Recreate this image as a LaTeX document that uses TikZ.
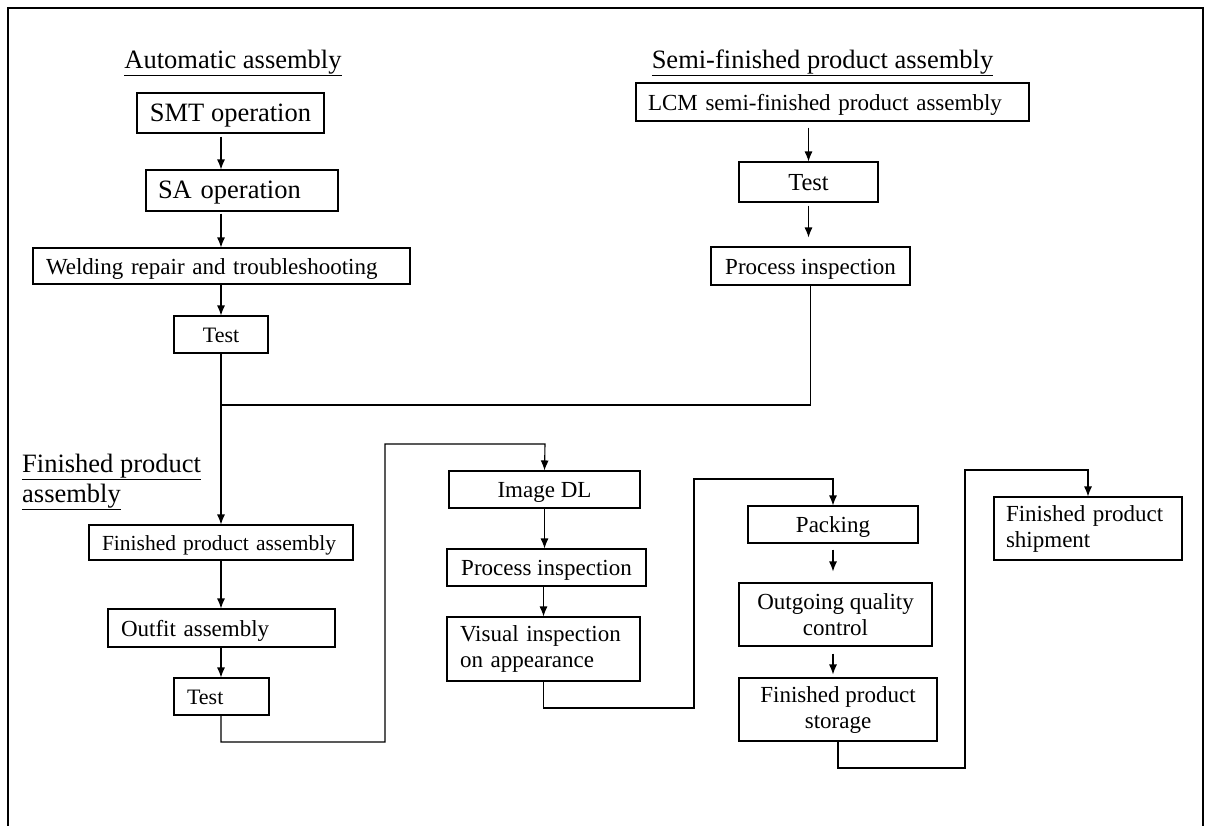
\documentclass[tikz,border=0pt]{standalone}
\usepackage{fontspec}
\setmainfont{Liberation Serif}
\usetikzlibrary{arrows.meta}
\begin{document}
\begin{tikzpicture}[x=1pt,y=-1pt,
  bx/.style={draw, line width=1.1pt, inner sep=0pt, align=center, font=\fontsize{23}{26}\selectfont},
  one/.style={text height=21pt, text depth=5pt},
  two/.style={yshift=-4pt},
  big/.style={font=\fontsize{26.5}{30}\selectfont},
  ttl/.style={inner sep=0pt, font=\fontsize{26.5}{30}\selectfont, align=left},
  arr/.style={-{Latex[length=10pt,width=8pt]}, line width=1.1pt},
  ln/.style={line width=1.1pt}]
\useasboundingbox (0,0) rectangle (1206,825);
% frame
\draw[line width=2pt] (8,826) -- (8,8) -- (1203,8) -- (1203,826);

% titles
\node[ttl] (tauto) at (233,63) {\underline{Automatic assembly}};
\node[ttl] (tsemi) at (822.5,63) {\underline{Semi-finished product assembly}};
\node[ttl, anchor=west] (tfin) at (22,482) {\underline{Finished product}\\\underline{assembly}};

% left chain
\node[bx, big, one, minimum width=187pt, minimum height=40pt] (smt) at (230.5,113) {SMT operation};
\node[bx, big, one, minimum height=41pt, inner xsep=12pt, text width=168pt, align=left] (sa) at (242,190.5) {SA operation};
\node[bx, one, minimum height=36pt, inner xsep=13pt, text width=351pt, align=left] (weld) at (221.5,266) {Welding repair and troubleshooting};
\node[bx, one, font=\fontsize{22}{26}\selectfont, minimum width=94pt, minimum height=37pt] (test1) at (221,334.5) {Test};

% right top chain
\node[bx, one, minimum height=38pt, inner xsep=12pt, text width=369pt, align=left] (lcm) at (832.5,102) {LCM semi-finished product assembly};
\node[bx, one, font=\fontsize{24.5}{28}\selectfont, minimum width=139pt, minimum height=40pt] (test2) at (808.5,182) {Test};
\node[bx, one, minimum width=199pt, minimum height=38pt] (pi1) at (810.5,266) {Process inspection};

% finished product chain
\node[bx, one, font=\fontsize{21.5}{26}\selectfont, minimum height=35pt, inner xsep=13pt, text width=238pt, align=left] (fpa) at (221,542.5) {Finished product assembly};
\node[bx, one, minimum height=38pt, inner xsep=13pt, text width=201pt, align=left] (outfit) at (221.5,628) {Outfit assembly};
\node[bx, one, font=\fontsize{22}{26}\selectfont, minimum height=37pt, inner xsep=13pt, text width=69pt, align=left] (test3) at (221.5,696.5) {Test};

\node[bx, one, minimum width=191pt, minimum height=37pt] (imgdl) at (544.5,489.5) {Image DL};
\node[bx, one, minimum width=199pt, minimum height=37pt] (pi2) at (546.5,567.5) {Process inspection};
\node[bx, minimum height=64pt, inner xsep=13pt, text width=167pt, align=left] (vis) at (543.5,649) {\raisebox{-4pt}{\parbox{167pt}{Visual inspection\\on appearance}}};

\node[bx, one, minimum width=170pt, minimum height=37pt] (pack) at (833,524.5) {Packing};
\node[bx, minimum width=193pt, minimum height=63pt] (oqc) at (835.5,614.5) {Outgoing quality\\control};
\node[bx, minimum width=198pt, minimum height=63pt] (fps) at (838,709.5) {Finished product\\storage};

\node[bx, minimum height=63pt, inner xsep=12pt, text width=164pt, align=left] (ship) at (1088,528.5) {Finished product\\shipment};

% helper coordinates
\coordinate (j) at (221,405);
\coordinate (r1) at (385,742);
\coordinate (r2) at (545,444);
\coordinate (s1) at (694,708);
\coordinate (s2) at (833,479);
\coordinate (u1) at (965,768);
\coordinate (u2) at (1088,470);

% connectors
\draw[arr, shorten <=3pt] (smt.south -| test1) -- (sa.north -| test1);
\draw[arr, shorten <=2pt] (sa.south -| test1) -- (weld.north -| test1);
\draw[arr] (weld.south -| test1) -- (test1.north);
\draw[arr, shorten <=6pt] (lcm.south -| test2) -- (test2.north -| test2);
\draw[arr, shorten <=3pt, shorten >=9pt] (test2.south) -- (test2.south |- pi1.north);
\draw[ln] (pi1.south) |- (j);
\draw[arr] (test1.south) -- (fpa.north);
\draw[arr] (fpa.south) -- (fpa.south |- outfit.north);
\draw[arr] (outfit.south -| fpa) -- (test3.north -| fpa);
\draw[arr] (test3.south -| fpa) |- (r1) |- (r2) -- (imgdl.north);
\draw[arr] (imgdl.south) -- (pi2.north -| imgdl);
\draw[arr] (pi2.south -| vis) -- (vis.north);
\draw[arr] (vis.south) |- (s1) |- (s2) -- (pack.north);
\draw[arr, shorten <=6pt, shorten >=11pt] (pack.south) -- (pack.south |- oqc.north);
\draw[arr, shorten <=7pt, shorten >=3pt] (oqc.south -| pack) -- (fps.north -| pack);
\draw[arr] (fps.south) |- (u1) |- (u2) -- (ship.north);
\end{tikzpicture}
\end{document}
